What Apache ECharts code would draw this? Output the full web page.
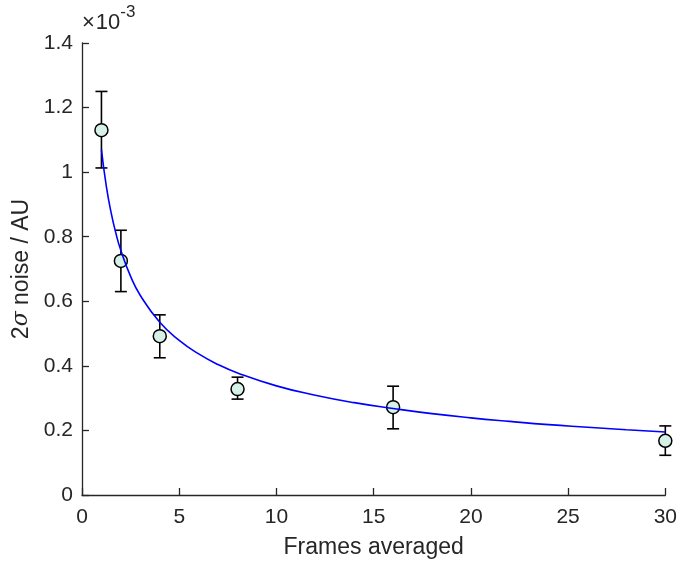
<!DOCTYPE html>
<html>
<head>
<meta charset="utf-8">
<script src="https://cdn.jsdelivr.net/npm/echarts@6/dist/echarts.min.js"></script>
<style>html,body{margin:0;padding:0;background:#fff}#c{width:680px;height:564px}</style>
</head>
<body>
<div id="c"></div>
<script>
// Data (y in units of 1e-3 AU)
const frames = [1, 2, 4, 8, 16, 30];
const noise = [1.13, 0.725, 0.492, 0.328, 0.272, 0.168];
const errLow = [1.013, 0.630, 0.425, 0.297, 0.205, 0.123];
const errHigh = [1.250, 0.820, 0.558, 0.365, 0.337, 0.214];
// Fitted curve
const fitX = [1, 1.25, 1.5, 1.75, 2, 2.5, 3, 4, 5, 6, 7, 8, 10, 12, 14, 16, 18, 20, 22, 24, 26, 28, 30];
const fitY = [1.07, 0.957, 0.874, 0.809, 0.757, 0.677, 0.618, 0.535, 0.479, 0.437, 0.404, 0.378, 0.338, 0.309, 0.286, 0.268, 0.252, 0.239, 0.228, 0.218, 0.210, 0.202, 0.195];
const xTicks = [0, 5, 10, 15, 20, 25, 30];
const yTicks = [0, 0.2, 0.4, 0.6, 0.8, 1, 1.2, 1.4];

const FONT = '"Liberation Sans", Arial, Helvetica, sans-serif';
const AX = '#262626';

const chart = echarts.init(document.getElementById('c'));
chart.setOption({
  animation: false,
  backgroundColor: '#fff',
  grid: { left: 82, right: 12, top: 43, bottom: 64, containLabel: false },
  xAxis: {
    type: 'value', min: 0, max: 30, interval: 5,
    name: 'Frames averaged', nameLocation: 'middle', nameGap: 41,
    nameTextStyle: { fontFamily: FONT, fontSize: 23, color: AX },
    axisLine: { show: true, lineStyle: { color: AX, width: 1.3 } },
    axisTick: { show: true, inside: true, length: 7, lineStyle: { color: AX, width: 1.3 } },
    axisLabel: { fontFamily: FONT, fontSize: 21, color: AX, margin: 12 },
    splitLine: { show: false }
  },
  yAxis: {
    type: 'value', min: 0, max: 1.4, interval: 0.2,
    name: '{n|2}{s|σ}{n| noise / AU}', nameLocation: 'middle', nameGap: 40, nameRotate: 90,
    nameTextStyle: {
      color: AX,
      rich: {
        n: { fontFamily: FONT, fontSize: 23, color: AX },
        s: { fontFamily: '"DejaVu Serif", serif', fontStyle: 'italic', fontSize: 22, color: AX }
      }
    },
    axisLine: { show: true, lineStyle: { color: AX, width: 1.3 } },
    axisTick: { show: true, inside: true, length: 7, lineStyle: { color: AX, width: 1.3 } },
    axisLabel: { fontFamily: FONT, fontSize: 21, color: AX, margin: 9,
      formatter: v => String(Math.round(v * 10) / 10) },
    splitLine: { show: false }
  },
  graphic: [{
    type: 'text', left: 82, top: 4,
    style: {
      text: '{x|×}{t|10}{e|-3}',
      rich: {
        x: { fontFamily: FONT, fontSize: 22, fill: AX, padding: [8, 1, 0, 0] },
        t: { fontFamily: FONT, fontSize: 22, fill: AX, padding: [8, 0, 0, 0] },
        e: { fontFamily: FONT, fontSize: 17, fill: AX, padding: [0, 0, 12, 0] }
      }
    }
  }],
  series: [
    {
      type: 'custom',
      name: 'err',
      data: frames.map((f, i) => [f, errLow[i], errHigh[i]]),
      renderItem: (params, api) => {
        const lo = api.coord([api.value(0), api.value(1)]);
        const hi = api.coord([api.value(0), api.value(2)]);
        const hw = 6;
        const st = { stroke: '#000', lineWidth: 1.6, fill: 'none' };
        return {
          type: 'group',
          children: [
            { type: 'line', shape: { x1: lo[0], y1: lo[1], x2: hi[0], y2: hi[1] }, style: st },
            { type: 'line', shape: { x1: lo[0] - hw, y1: lo[1], x2: lo[0] + hw, y2: lo[1] }, style: st },
            { type: 'line', shape: { x1: hi[0] - hw, y1: hi[1], x2: hi[0] + hw, y2: hi[1] }, style: st }
          ]
        };
      },
      z: 2
    },
    {
      type: 'scatter',
      data: frames.map((f, i) => [f, noise[i]]),
      symbol: 'circle', symbolSize: 13,
      itemStyle: { color: '#d6f2e6', borderColor: '#000', borderWidth: 1.5, opacity: 1 },
      z: 3
    },
    {
      type: 'line',
      data: fitX.map((x, i) => [x, fitY[i]]),
      smooth: true, showSymbol: false, symbol: 'none',
      lineStyle: { color: '#0000ff', width: 1.6 },
      z: 4
    }
  ]
});
</script>
</body>
</html>
